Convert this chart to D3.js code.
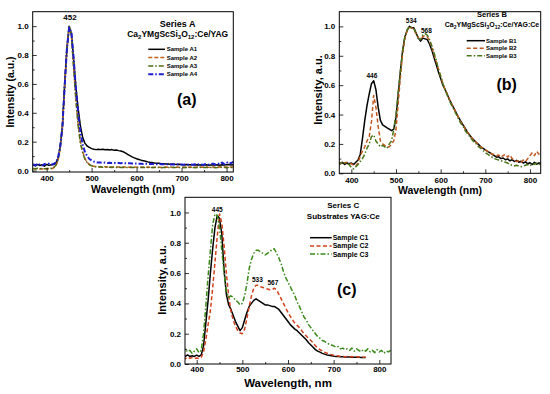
<!DOCTYPE html>
<html><head><meta charset="utf-8">
<script src="https://cdn.jsdelivr.net/npm/d3@7/dist/d3.min.js"></script>
<style>
body{margin:0;background:#fff;}
text{font-family:"Liberation Sans",Arial,sans-serif;font-weight:bold;fill:#000;}
</style>
</head><body>
<svg id="chart" width="550" height="394"></svg>
<script>
// ---------- DATA ----------
const wavelengths = [
370,375,380,385,390,395,400,405,410,415,
420,425,430,435,440,445,450,455,460,465,
470,475,480,485,490,495,500,505,510,515,
520,525,530,535,540,545,550,555,560,565,
570,575,580,585,590,595,600,605,610,615,
620,625,630,635,640,645,650,655,660,665,
670,675,680,685,690,695,700,705,710,715,
720,725,730,735,740,745,750,755,760,765,
770,775,780,785,790,795,800,805,810,815,
820,825];

const xTicks = [400,500,600,700,800];
const xMinorTicks = [450,550,650,750];
const yTicks = [0,0.2,0.4,0.6,0.8,1.0];
const yMinorTicks = [0.1,0.3,0.5,0.7,0.9];

// Series A
const namesA = ["Sample A1","Sample A2","Sample A3","Sample A4"];
const sampleA1 = [
0.04,0.032,0.042,0.035,0.04,0.03,0.042,0.036,0.04,0.042,
0.05,0.08,0.16,0.3,0.6,0.84,1.0,0.95,0.77,0.58,
0.43,0.31,0.23,0.19,0.17,0.16,0.152,0.148,0.145,0.148,
0.145,0.147,0.144,0.146,0.143,0.145,0.141,0.142,0.138,0.135,
0.13,0.122,0.112,0.103,0.095,0.088,0.082,0.077,0.072,0.068,
0.064,0.06,0.057,0.055,0.052,0.05,0.05,0.048,0.047,0.046,
0.045,0.044,0.045,0.043,0.042,0.043,0.041,0.04,0.042,0.04,
0.041,0.04,0.038,0.04,0.039,0.04,0.038,0.04,0.037,0.039,
0.04,0.038,0.04,0.037,0.04,0.038,0.04,0.042,0.038,0.04,
0.04,0.04];
const sampleA2 = [
0.012,0.01,0.013,0.01,0.012,0.01,0.011,0.012,0.013,0.018,
0.03,0.065,0.15,0.3,0.57,0.84,0.99,0.94,0.72,0.5,
0.32,0.2,0.13,0.085,0.058,0.042,0.035,0.03,0.028,0.027,
0.026,0.025,0.026,0.024,0.025,0.024,0.025,0.024,0.025,0.024,
0.025,0.024,0.023,0.024,0.023,0.024,0.023,0.024,0.023,0.024,
0.023,0.024,0.023,0.022,0.023,0.024,0.023,0.022,0.023,0.024,
0.023,0.024,0.022,0.023,0.024,0.022,0.023,0.024,0.022,0.023,
0.024,0.022,0.023,0.025,0.022,0.024,0.023,0.025,0.022,0.024,
0.025,0.023,0.024,0.026,0.023,0.025,0.024,0.026,0.024,0.025,
0.025,0.025];
const sampleA3 = [
0.015,0.012,0.016,0.013,0.015,0.012,0.014,0.016,0.015,0.02,
0.035,0.07,0.16,0.31,0.58,0.85,1.0,0.94,0.71,0.49,
0.31,0.19,0.125,0.08,0.055,0.04,0.033,0.028,0.026,0.025,
0.024,0.023,0.024,0.022,0.023,0.022,0.023,0.022,0.023,0.022,
0.022,0.021,0.022,0.021,0.022,0.021,0.022,0.021,0.022,0.021,
0.021,0.022,0.021,0.022,0.021,0.022,0.021,0.02,0.021,0.022,
0.021,0.02,0.021,0.022,0.02,0.021,0.022,0.02,0.021,0.02,
0.021,0.022,0.02,0.021,0.023,0.02,0.021,0.022,0.02,0.021,
0.022,0.02,0.021,0.023,0.021,0.022,0.02,0.022,0.021,0.022,
0.022,0.022];
const sampleA4 = [
0.045,0.035,0.05,0.04,0.035,0.045,0.04,0.048,0.04,0.045,
0.055,0.085,0.16,0.3,0.58,0.84,0.99,0.96,0.78,0.57,
0.4,0.27,0.18,0.13,0.1,0.08,0.07,0.062,0.058,0.055,
0.055,0.054,0.055,0.053,0.054,0.052,0.053,0.052,0.052,0.05,
0.052,0.05,0.05,0.05,0.049,0.048,0.048,0.047,0.048,0.046,
0.047,0.046,0.045,0.046,0.045,0.044,0.045,0.044,0.043,0.044,
0.043,0.042,0.043,0.042,0.043,0.041,0.042,0.04,0.043,0.041,
0.042,0.04,0.043,0.041,0.045,0.04,0.042,0.046,0.041,0.044,
0.048,0.042,0.05,0.044,0.055,0.045,0.058,0.047,0.052,0.06,
0.05,0.05];

// Series B
const namesB = ["Sample B1","Sample B2","Sample B3"];
const sampleB1 = [
0.07,0.065,0.075,0.06,0.07,0.065,0.07,0.06,0.075,0.09,
0.13,0.24,0.36,0.46,0.54,0.61,0.63,0.57,0.45,0.36,
0.33,0.32,0.31,0.3,0.29,0.3,0.38,0.54,0.7,0.84,
0.93,0.975,1.0,0.99,0.99,0.955,0.92,0.9,0.92,0.915,
0.91,0.88,0.84,0.79,0.74,0.69,0.645,0.6,0.57,0.535,
0.5,0.47,0.44,0.41,0.38,0.355,0.33,0.305,0.28,0.26,
0.24,0.225,0.21,0.195,0.18,0.17,0.16,0.15,0.14,0.13,
0.12,0.11,0.112,0.1,0.104,0.092,0.098,0.085,0.093,0.08,
0.088,0.075,0.082,0.07,0.078,0.065,0.072,0.06,0.075,0.062,
0.07,0.068];
const sampleB2 = [
0.075,0.07,0.08,0.07,0.075,0.07,0.065,0.055,0.05,0.07,
0.12,0.15,0.18,0.22,0.25,0.35,0.53,0.45,0.32,0.22,
0.2,0.19,0.18,0.18,0.2,0.22,0.3,0.48,0.66,0.82,
0.92,0.97,0.99,0.99,0.98,0.95,0.92,0.91,0.93,0.94,
0.93,0.9,0.86,0.81,0.76,0.71,0.66,0.61,0.57,0.54,
0.5,0.47,0.44,0.41,0.38,0.35,0.33,0.3,0.28,0.26,
0.24,0.22,0.21,0.19,0.18,0.17,0.16,0.15,0.14,0.13,
0.13,0.12,0.125,0.11,0.12,0.13,0.11,0.125,0.1,0.09,
0.08,0.085,0.075,0.09,0.08,0.1,0.12,0.14,0.12,0.15,
0.13,0.14];
const sampleB3 = [
0.07,0.065,0.075,0.07,0.065,0.06,0.04,0.03,0.045,0.06,
0.08,0.1,0.13,0.17,0.2,0.25,0.26,0.22,0.2,0.18,
0.19,0.18,0.17,0.2,0.22,0.3,0.4,0.55,0.7,0.84,
0.93,0.975,1.0,0.99,0.985,0.95,0.92,0.91,0.94,0.95,
0.94,0.91,0.87,0.82,0.77,0.71,0.66,0.61,0.57,0.53,
0.49,0.46,0.43,0.4,0.37,0.34,0.32,0.29,0.27,0.25,
0.23,0.21,0.2,0.18,0.17,0.155,0.14,0.13,0.12,0.11,
0.1,0.095,0.09,0.085,0.08,0.075,0.07,0.06,0.055,0.05,
0.055,0.05,0.045,0.05,0.055,0.06,0.05,0.065,0.06,0.07,
0.06,0.065];

// Series C
const namesC = ["Sample C1","Sample C2","Sample C3"];
const sampleC1 = [
0.055,0.05,0.06,0.05,0.055,0.05,0.058,0.05,0.06,0.12,
0.27,0.42,0.6,0.76,0.9,0.98,0.96,0.86,0.62,0.46,
0.39,0.36,0.32,0.28,0.25,0.22,0.24,0.29,0.34,0.38,
0.4,0.42,0.43,0.42,0.41,0.4,0.39,0.39,0.385,0.38,
0.38,0.37,0.36,0.34,0.32,0.3,0.28,0.26,0.245,0.23,
0.22,0.205,0.19,0.175,0.16,0.14,0.125,0.11,0.095,0.085,
0.078,0.07,0.065,0.06,0.058,0.055,0.052,0.05,0.05,0.048,
0.048,0.047,0.046,0.046,0.045,0.045,0.044,0.044,0.043,0.043,
0.043];
const sampleC2 = [
0.04,0.035,0.045,0.038,0.042,0.036,0.04,0.035,0.045,0.08,
0.16,0.26,0.35,0.5,0.67,0.84,0.99,0.93,0.78,0.6,
0.45,0.35,0.29,0.25,0.22,0.205,0.2,0.23,0.3,0.38,
0.45,0.5,0.52,0.52,0.51,0.505,0.5,0.495,0.49,0.49,
0.5,0.49,0.46,0.43,0.4,0.37,0.34,0.315,0.29,0.27,
0.255,0.24,0.22,0.2,0.185,0.17,0.155,0.14,0.12,0.105,
0.095,0.085,0.078,0.072,0.066,0.062,0.058,0.055,0.053,0.05,
0.05,0.048,0.05,0.047,0.049,0.046,0.048,0.046,0.047,0.045,
0.046];
const sampleC3 = [
0.07,0.1,0.08,0.09,0.07,0.085,0.1,0.075,0.09,0.2,
0.38,0.58,0.75,0.92,0.99,0.98,0.9,0.75,0.6,0.48,
0.44,0.45,0.44,0.42,0.41,0.39,0.4,0.45,0.53,0.63,
0.69,0.73,0.75,0.75,0.74,0.73,0.72,0.73,0.74,0.755,
0.76,0.73,0.7,0.66,0.61,0.57,0.54,0.51,0.48,0.45,
0.41,0.38,0.345,0.31,0.29,0.26,0.24,0.22,0.2,0.18,
0.17,0.155,0.15,0.14,0.13,0.125,0.12,0.11,0.115,0.1,
0.105,0.095,0.1,0.09,0.105,0.085,0.1,0.09,0.08,0.095,
0.085,0.1,0.08,0.09,0.075,0.095,0.08,0.09,0.07,0.085,
0.08,0.09];

// ---------- DRAWING ----------
const svg = d3.select("#chart");

function addRichText(sel, parts, mainSize, subSize) {
  let shift = 0;
  parts.forEach(p => {
    const target = p[1] ? 2 : 0;
    const t = sel.append("tspan").attr("font-size", p[1] ? subSize : mainSize).text(p[0]);
    if (target !== shift) t.attr("dy", target - shift);
    shift = target;
  });
}

function drawPanel(p, idx) {
  const [bx0, by0, bx1, by1] = p.box;
  const x = d3.scaleLinear().domain(p.xDomain).range([bx0, bx1]);
  const y = d3.scaleLinear().domain(p.yDomain).range([by1, by0]);
  const g = svg.append("g");

  const clipId = "clip" + idx;
  g.append("clipPath").attr("id", clipId).append("rect")
    .attr("x", bx0).attr("y", by0).attr("width", bx1 - bx0).attr("height", by1 - by0);

  const line = d3.line()
    .defined(d => d != null)
    .x((d, i) => x(wavelengths[i]))
    .y(d => y(d));
  const lg = g.append("g").attr("clip-path", `url(#${clipId})`);
  p.series.forEach(s => {
    const vals = wavelengths.map((w, i) => i < s.values.length ? s.values[i] : null);
    lg.append("path").attr("d", line(vals))
      .attr("fill", "none").attr("stroke", s.color)
      .attr("stroke-width", s.width).attr("stroke-dasharray", s.dash || null)
      .attr("stroke-linejoin", "round");
  });

  const xAxis = d3.axisBottom(x).tickValues(xTicks).tickSize(-4).tickPadding(p.xPad).tickFormat(d3.format("d"));
  const xg = g.append("g").attr("transform", `translate(0,${by1})`).call(xAxis);
  const xm = g.append("g").attr("transform", `translate(0,${by1})`)
    .call(d3.axisBottom(x).tickValues(xMinorTicks).tickSize(-2).tickFormat(""));
  const yAxis = d3.axisLeft(y).tickValues(yTicks).tickSize(-4).tickPadding(p.yPad).tickFormat(d3.format(".1f"));
  const yg = g.append("g").attr("transform", `translate(${bx0},0)`).call(yAxis);
  const ym = g.append("g").attr("transform", `translate(${bx0},0)`)
    .call(d3.axisLeft(y).tickValues(yMinorTicks).tickSize(-2).tickFormat(""));
  [xg, xm, yg, ym].forEach(a => {
    a.select(".domain").remove();
    a.selectAll("line").attr("stroke", "#000").attr("stroke-width", 0.8);
    a.selectAll("text").attr("font-size", 8).attr("font-family", "'Liberation Sans',Arial,sans-serif").attr("font-weight", "bold").attr("fill", "#000");
  });

  g.append("rect").attr("x", bx0).attr("y", by0).attr("width", bx1 - bx0).attr("height", by1 - by0)
    .attr("fill", "none").attr("stroke", "#000").attr("stroke-width", 1);

  g.append("text").attr("x", (bx0 + bx1) / 2).attr("y", p.xTitleY).attr("text-anchor", "middle")
    .attr("font-size", p.xTitleSize).text(p.xTitle);
  g.append("text").attr("transform", `translate(${p.yTitleX},${p.yTitleCY}) rotate(-90)`)
    .attr("text-anchor", "middle").attr("font-size", p.yTitleSize).text(p.yTitle);

  g.append("text").attr("x", p.headX).attr("y", p.headY1).attr("text-anchor", "middle")
    .attr("font-size", p.headSize).text(p.head1);
  const h2 = g.append("text").attr("x", p.headX).attr("y", p.headY2).attr("text-anchor", "middle");
  addRichText(h2, p.head2, p.headSize2, p.subSize);

  p.series.forEach((s, i) => {
    const ly = p.legend.y0 + i * p.legend.dy;
    g.append("line").attr("x1", p.legend.x1).attr("x2", p.legend.x2).attr("y1", ly).attr("y2", ly)
      .attr("stroke", s.color).attr("stroke-width", s.width).attr("stroke-dasharray", s.dash || null);
    g.append("text").attr("x", p.legend.tx).attr("y", ly + p.legend.size * 0.35)
      .attr("font-size", p.legend.size).text(s.name);
  });

  p.peaks.forEach(pk => {
    g.append("text").attr("x", x(pk.nm)).attr("y", y(pk.v)).attr("text-anchor", "middle")
      .attr("font-size", pk.size).text(String(pk.nm));
  });

  g.append("text").attr("x", p.letterX).attr("y", p.letterY).attr("text-anchor", "middle")
    .attr("font-size", 16).text(p.letter);
}

const panels = [
  {
    box: [32.7, 11.7, 233.3, 172], xDomain: [369, 815], yDomain: [-0.01, 1.1],
    xPad: 3, yPad: 4,
    series: [
      {name: namesA[0], values: sampleA1, color: "#000000", width: 1.5},
      {name: namesA[1], values: sampleA2, color: "#c0601e", width: 1.5, dash: "4,2"},
      {name: namesA[2], values: sampleA3, color: "#4f6b12", width: 1.5, dash: "5,2,1.5,2"},
      {name: namesA[3], values: sampleA4, color: "#1c1cd0", width: 2, dash: "5,2,1.5,2"}
    ],
    xTitle: "Wavelength (nm)", xTitleY: 193, xTitleSize: 10.5,
    yTitle: "Intensity (a.u.)", yTitleX: 13.5, yTitleCY: 92, yTitleSize: 10.5,
    head1: "Series A", headX: 177.7, headY1: 27, headY2: 36.5, headSize: 9, headSize2: 8.5, subSize: 6,
    head2: [["Ca",0],["2",1],["YMgScSi",0],["3",1],["O",0],["12",1],[":Ce/YAG",0]],
    legend: {x1: 148.3, x2: 165, tx: 166.7, y0: 49.3, dy: 8.3, size: 6},
    peaks: [{nm: 452, v: 1.045, size: 8}],
    letter: "(a)", letterX: 186.7, letterY: 105
  },
  {
    box: [339.3, 11.7, 540.7, 173.3], xDomain: [373, 824], yDomain: [0, 1.1],
    xPad: 4, yPad: 4,
    series: [
      {name: namesB[0], values: sampleB1, color: "#000000", width: 1.5},
      {name: namesB[1], values: sampleB2, color: "#c2561c", width: 1.5, dash: "4,2.5"},
      {name: namesB[2], values: sampleB3, color: "#4b7418", width: 1.5, dash: "5,2,1.5,2"}
    ],
    xTitle: "Wavelength (nm)", xTitleY: 194, xTitleSize: 10.5,
    yTitle: "Intensity, a.u.", yTitleX: 322, yTitleCY: 90, yTitleSize: 11,
    head1: "Series B", headX: 492, headY1: 16.5, headY2: 26.5, headSize: 7.5, headSize2: 7, subSize: 5,
    head2: [["Ca",0],["2",1],["YMgScSi",0],["3",1],["O",0],["12",1],[":Ce/YAG:Ce",0]],
    legend: {x1: 466.7, x2: 485, tx: 486, y0: 40.7, dy: 7.5, size: 6},
    peaks: [{nm: 446, v: 0.65, size: 6.5}, {nm: 534, v: 1.02, size: 6.5}, {nm: 568, v: 0.955, size: 6.5}],
    letter: "(b)", letterX: 506.7, letterY: 90
  },
  {
    box: [185, 197.3, 391, 364], xDomain: [374.4, 825.6], yDomain: [0, 1.1],
    xPad: 2.5, yPad: 4,
    series: [
      {name: namesC[0], values: sampleC1, color: "#000000", width: 1.5},
      {name: namesC[1], values: sampleC2, color: "#d0401c", width: 1.5, dash: "4,2.5"},
      {name: namesC[2], values: sampleC3, color: "#3a8a1a", width: 1.5, dash: "5,2,1.5,2"}
    ],
    xTitle: "Wavelength, nm", xTitleY: 387, xTitleSize: 11.5,
    yTitle: "Intensity, a.u.", yTitleX: 166, yTitleCY: 280, yTitleSize: 11,
    head1: "Series C", headX: 343.3, headY1: 208, headY2: 219, headSize: 8, headSize2: 8, subSize: 6,
    head2: [["Substrates YAG:Ce",0]],
    legend: {x1: 310, x2: 331.7, tx: 332.7, y0: 237.7, dy: 8.2, size: 7},
    peaks: [{nm: 445, v: 1.005, size: 6.5}, {nm: 533, v: 0.54, size: 6.5}, {nm: 567, v: 0.52, size: 6.5}],
    letter: "(c)", letterX: 346.7, letterY: 295
  }
];

panels.forEach((p, i) => drawPanel(p, i));
</script>
</body></html>
